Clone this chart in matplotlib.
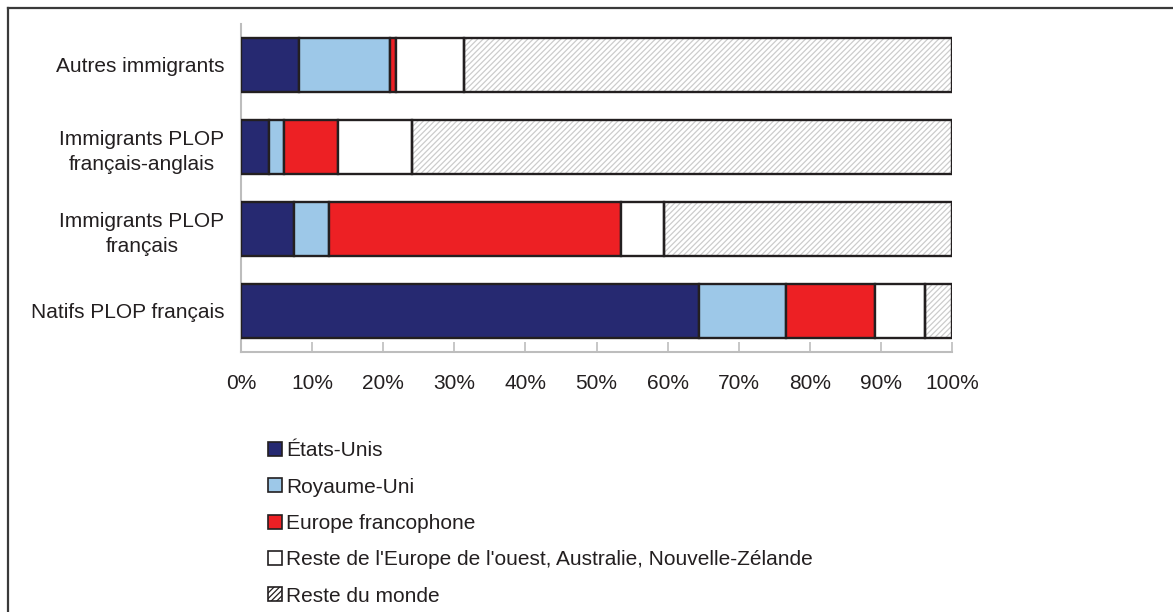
import matplotlib.pyplot as plt
import numpy as np
from matplotlib.lines import Line2D
from matplotlib.patches import Patch

plt.rcParams['font.family'] = ['Liberation Sans', 'DejaVu Sans']
plt.rcParams['hatch.linewidth'] = 0.9

groups = ['Autres immigrants', 'Immigrants PLOP\nfrançais-anglais',
          'Immigrants PLOP\nfrançais', 'Natifs PLOP français']
series = ['États-Unis', 'Royaume-Uni', 'Europe francophone',
          "Reste de l'Europe de l'ouest, Australie, Nouvelle-Zélande",
          'Reste du monde']

# share of each origin (%), one list per group
autres = [8.1, 12.9, 0.8, 9.5, 68.7]
plop_fa = [4.0, 2.1, 7.6, 10.3, 76.0]
plop_f = [7.5, 4.9, 41.1, 6.0, 40.5]
natifs = [64.4, 12.3, 12.5, 7.0, 3.8]

colors = ['#262971', '#9dc8e8', '#ed2024', '#ffffff', '#ffffff']
edge = '#231f20'
txt = '#231f20'

data = np.array([autres, plop_fa, plop_f, natifs])

fig = plt.figure(figsize=(11.73, 6.12), dpi=100)
ax = fig.add_axes([241/1173, 1 - 352/612, 711/1173, 328/612])

y = np.arange(len(groups))
left = np.zeros(len(groups))
for i, name in enumerate(series):
    vals = data[:, i]
    if i == 4:
        # hatch drawn in light grey, outline drawn on top in dark
        ax.barh(y, vals, left=left, height=0.67, color='white',
                edgecolor='#cccccc', hatch='//////', linewidth=0, zorder=2)
        ax.barh(y, vals, left=left, height=0.67, color='none',
                edgecolor=edge, linewidth=1.7, zorder=3)
    else:
        ax.barh(y, vals, left=left, height=0.67, color=colors[i],
                edgecolor=edge, linewidth=1.7, zorder=3)
    left += vals

ax.set_xlim(0, 100)
ax.set_ylim(3.5, -0.5)
ax.set_xticks(np.arange(0, 101, 10))
ax.set_xticklabels([f'{v}%' for v in range(0, 101, 10)], fontsize=15, color=txt)
ax.set_yticks(y)
ax.set_yticklabels(groups, fontsize=15, color=txt, multialignment='center',
                   linespacing=1.4)
ax.tick_params(axis='x', direction='in', length=7, width=1.2, color='#bdbdbd', pad=16)
ax.tick_params(axis='y', length=0, pad=12)
for s in ['top', 'right']:
    ax.spines[s].set_visible(False)
for s in ['left', 'bottom']:
    ax.spines[s].set_color('#bdbdbd')
    ax.spines[s].set_linewidth(1.5)

handles = []
for i, name in enumerate(series):
    if i == 4:
        handles.append(Patch(facecolor='white', edgecolor=edge, hatch='//////',
                             linewidth=1.2, label=name))
    else:
        handles.append(Patch(facecolor=colors[i], edgecolor=edge,
                             linewidth=1.2, label=name))
fig.legend(handles=handles, loc='upper left', bbox_to_anchor=(260/1173, 1 - 433/612),
           frameon=False, fontsize=15, handlelength=0.65, handleheight=0.65,
           handletextpad=0.2, labelspacing=0.83, borderaxespad=0, labelcolor=txt)

# outer frame (top and left edges)
fig.add_artist(Line2D([8/1173, 1], [1 - 8/612, 1 - 8/612], color='#3a3a3a',
                      linewidth=1.6, transform=fig.transFigure))
fig.add_artist(Line2D([8/1173, 8/1173], [0, 1 - 8/612], color='#3a3a3a',
                      linewidth=1.6, transform=fig.transFigure))

fig.savefig('out.png', dpi=100)
